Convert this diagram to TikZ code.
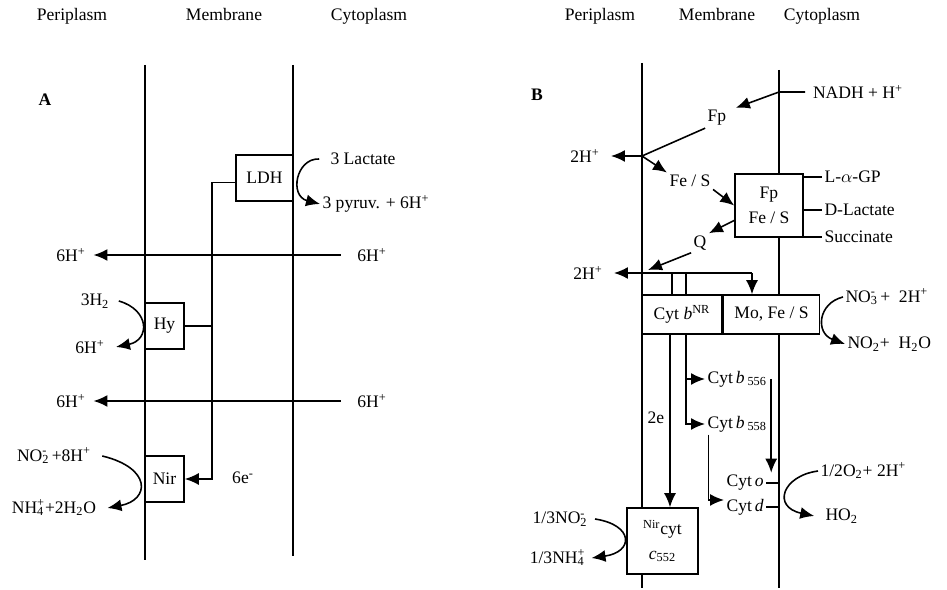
\documentclass[tikz,border=0pt]{standalone}
\usepackage{fontspec}
\setmainfont{Liberation Serif}
\usetikzlibrary{arrows.meta}
\newcommand{\subsup}[2]{\rlap{\textsubscript{#1}}\textsuperscript{#2}}

\begin{document}
\begin{tikzpicture}[x=0.02cm,y=-0.02cm,line width=0.9pt,
    font=\fontsize{10}{12}\selectfont,
    every node/.style={inner sep=1pt},
    membox/.style={draw,fill=white,inner sep=0pt,align=center},
    eflow/.style={-{Latex[length=2.8mm,width=2.4mm]}}]
    \useasboundingbox (0,0) rectangle (947,590);

    % compartment headers
    \foreach \n/\x/\txt in {periA/72/Periplasm, membA/224/Membrane, cytoA/369/Cytoplasm,
        periB/600/Periplasm, membB/717/Membrane, cytoB/822/Cytoplasm}
        \node[anchor=base] (\n) at (\x,21) {\txt};

    % ---------------- panel A ----------------
    \node[font=\bfseries] (labA) at (45,100) {A};
    \draw (145,65)--(145,560);
    \draw (293,65)--(293,556);

    % enzymes
    \node[membox,minimum width=1.14cm,minimum height=0.92cm] (ldh) at (264.5,178) {LDH};
    \node[membox,minimum width=0.78cm,minimum height=0.92cm] (hy) at (164.5,326) {Hy};
    \node[membox,minimum width=0.78cm,minimum height=0.92cm] (nir) at (164.5,479) {Nir};

    % electron path to Nir
    \coordinate (ebus) at (212,479);
    \draw[eflow] ([yshift=-2.5pt]ldh.west) -| (ebus)--(nir.east);
    \draw (hy.east)--(hy.east -| ebus);
    \node (sixe) at (243,478) {6e\textsuperscript{-}};

    % lactate
    \node[anchor=west] (lact) at (328,159) {3 Lactate};
    \node[anchor=west] (pyr) at (320,204) {3 pyruv. + 6H\textsuperscript{+}};
    \draw[eflow] ([xshift=-5pt]lact.west)
        .. controls (296,158) and (289,196) .. (pyr.west);

    % proton translocation
    \foreach \k/\yy in {1/255,2/401} {
        \node (hAr\k) at (372,\yy) {6H\textsuperscript{+}};
        \node (hAl\k) at (71,\yy) {6H\textsuperscript{+}};
        \draw[eflow] ([xshift=-8pt]hAr\k.west)--([xshift=3pt]hAl\k.east);
    }

    % hydrogenase
    \node (htwo) at (95,301) {3H\textsubscript{2}};
    \node (hhy) at (90,347) {6H\textsuperscript{+}};
    \draw[eflow] ([xshift=4pt]htwo.east)
        .. controls (150,310) and (150,340) .. ([xshift=5pt]hhy.east);

    % nitrite reduction
    \node (nitA) at (54,456) {NO\subsup{2}{-} +8H\textsuperscript{+}};
    \node (ammA) at (54,508) {NH\subsup{4}{+}+2H\textsubscript{2}O};
    \draw[eflow] ([xshift=5pt]nitA.east)
        .. controls (152,468) and (150,500) .. ([xshift=5pt]ammA.east);

    % ---------------- panel B ----------------
    \node[font=\bfseries] (labB) at (537,95) {B};
    \draw (642,63)--(642,588);
    \draw (779,70)--(779,588);
    \coordinate (mbR) at (779,0);

    % NADH dehydrogenase
    \node (nadh) at (858,92) {NADH + H\textsuperscript{+}};
    \node (fp) at (717,118) {Fp};
    \coordinate (jnad) at (779,92);
    \draw[eflow] ([xshift=-3pt]nadh.west)--(jnad)--([xshift=4pt]fp.north east);
    \node (hB1) at (585,156) {2H\textsuperscript{+}};
    \node (fes) at (690,181) {Fe / S};
    \coordinate (jfp) at (642,156);
    \draw (fp.south west)--(jfp);
    \draw[eflow] (jfp)--([xshift=5pt]hB1.east);
    \draw[eflow] (jfp)--(fes.north west);

    % other dehydrogenases
    \node[membox,minimum width=1.36cm,minimum height=1.26cm] (fpfes) at (769,205.5)
        {Fp\\[2pt]Fe / S};
    \foreach \n/\yy/\txt in {lagp/177/L-$\alpha$-GP, dlac/210/D-Lactate, succ/237/Succinate} {
        \node[anchor=west] (\n) at (822,\yy) {\txt};
        \draw (fpfes.east |- \n.west)--(\n.west);
    }
    \draw[eflow] (fes.south east)--(fpfes.west);
    \node (q) at (700,243) {Q};
    \draw[eflow] ([yshift=-8.5pt]fpfes.west)--(q.north east);

    % nitrate reductase
    \node[membox,minimum width=1.6cm,minimum height=0.78cm] (cytbnr) at (682,314.5)
        {Cyt \textit{b}\textsuperscript{NR}};
    \node[membox,minimum width=1.92cm,minimum height=0.78cm,anchor=west] (mofes)
        at (cytbnr.east) {Mo, Fe / S};
    \node (hB2) at (588,273) {2H\textsuperscript{+}};
    \coordinate (jq) at (752,273);
    \coordinate (qtip) at (648,270);
    \coordinate (ea) at (672,273);
    \coordinate (eb) at (686,273);
    \draw[eflow] (q.south west)--(qtip);
    \draw[eflow] (jq)--([xshift=5pt]hB2.east);
    \draw[eflow] (jq)--(jq |- mofes.north);
    \draw (ea)--(ea |- cytbnr.north);
    \draw (eb)--(eb |- cytbnr.north);
    \node[anchor=west] (nitB) at (843,297) {NO\subsup{3}{-} +\ \ 2H\textsuperscript{+}};
    \node[anchor=west] (no2B) at (845,344) {NO\textsubscript{2}+\ \ H\textsubscript{2}O};
    \draw[eflow] (nitB.west)
        .. controls (818,303) and (815,333) .. (no2B.west);

    % cytochromes
    \node[anchor=west] (b556) at (705,379) {Cyt\,\textit{b}\,\textsubscript{556}};
    \node[anchor=west] (b558) at (705,424) {Cyt\,\textit{b}\,\textsubscript{558}};
    \node[anchor=west] (cyto) at (724,483) {Cyt\,\textit{o}};
    \node[anchor=west] (cytd) at (724,507) {Cyt\,\textit{d}};
    \coordinate (bsplit) at (686,379);
    \draw[eflow] (eb |- cytbnr.south) |- (b558.west);
    \draw[eflow] (bsplit)--(b556.west);
    \draw[eflow] ([xshift=1pt]b556.east)--([xshift=1pt]b556.east |- cyto.north);
    \draw[eflow] ([xshift=2pt]b558.south west) |- ([yshift=4pt]cytd.west);
    \draw (cyto.east)--(cyto.east -| mbR);
    \draw (cytd.east)--(cytd.east -| mbR);

    % oxygen
    \node[anchor=west] (oxy) at (818,471) {1/2O\textsubscript{2}+ 2H\textsuperscript{+}};
    \node[anchor=west] (hotwo) at (823,516) {HO\textsubscript{2}};
    \draw[eflow] (oxy.west)
        .. controls (782,476) and (772,507) .. ([xshift=-5pt]hotwo.west);

    % nitrite reductase
    \node[membox,minimum width=1.42cm,minimum height=1.32cm] (nircyt) at (662.5,541)
        {\textsuperscript{Nir}cyt\\[2pt]\textit{c}\textsubscript{552}};
    \coordinate (ec) at (670,334);
    \draw[eflow] (ec)--(ec |- nircyt.north);
    \node (twoe) at (656,418) {2e};
    \node[anchor=east] (nitC) at (588,519) {1/3NO\subsup{2}{-}};
    \node[anchor=east] (ammC) at (588,558) {1/3NH\subsup{4}{+}};
    \draw[eflow] ([xshift=4pt]nitC.east)
        .. controls (634,525) and (634,552) .. ([xshift=2pt]ammC.east);
\end{tikzpicture}
\end{document}
